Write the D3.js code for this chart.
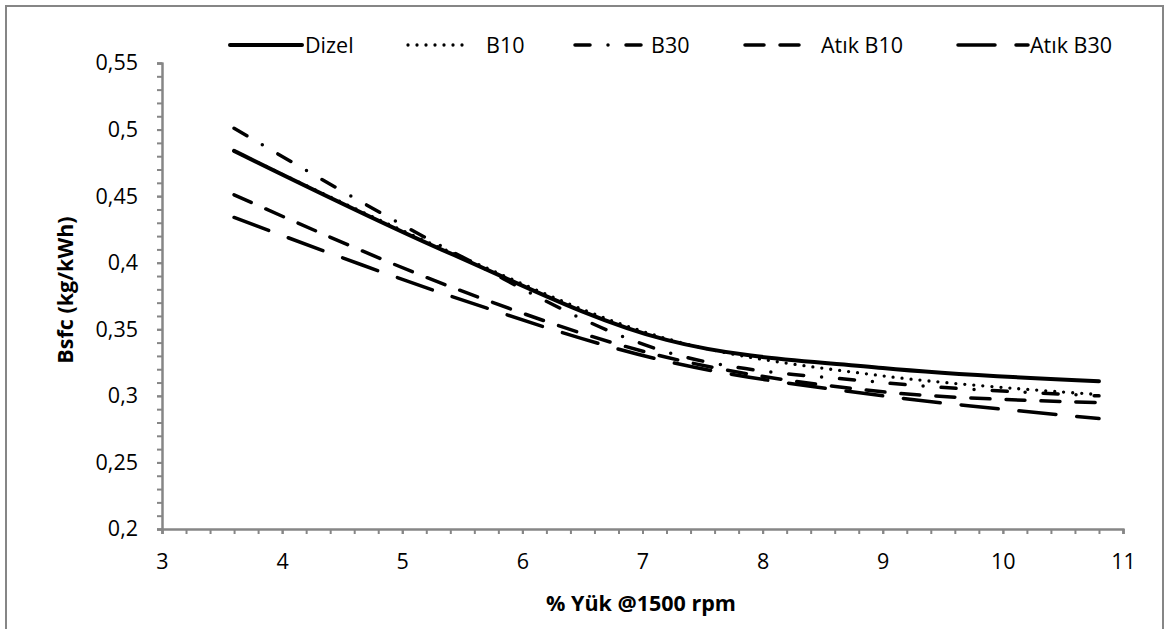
<!DOCTYPE html>
<html><head><meta charset="utf-8">
<script src="https://cdn.jsdelivr.net/npm/d3@7"></script>
<style>
body{margin:0;background:#fff}
svg text{font-family:'Open Sans',sans-serif;fill:#000}
</style>
</head><body>
<svg id="c" width="1170" height="629"></svg>
<script>
// ---- data ----
const loads = [3.6, 5.4, 7.2, 9, 10.8];
const dizel   = [0.484, 0.407, 0.342, 0.321, 0.311];
const b10     = [0.484, 0.408, 0.343, 0.315, 0.301];
const b30     = [0.501, 0.409, 0.333, 0.310, 0.300];
const atikB10 = [0.451, 0.382, 0.329, 0.303, 0.295];
const atikB30 = [0.434, 0.375, 0.326, 0.300, 0.283];
const seriesNames = ["Dizel", "B10", "B30", "Atık B10", "Atık B30"];
const xTicks = [3, 4, 5, 6, 7, 8, 9, 10, 11];
const xTickLabels = ["3", "4", "5", "6", "7", "8", "9", "10", "11"];
const yTicks = [0.2, 0.25, 0.3, 0.35, 0.4, 0.45, 0.5, 0.55];
const yTickLabels = ["0,2", "0,25", "0,3", "0,35", "0,4", "0,45", "0,5", "0,55"];
const xTitle = "% Yük @1500 rpm";
const yTitle = "Bsfc (kg/kWh)";

const seriesValues = [dizel, b10, b30, atikB10, atikB30];
const styles = [
  {w:4, dash:null},
  {w:3.3, dash:"0 9"},
  {w:3.5, dash:"15 18 0 18"},
  {w:3.5, dash:"19 16"},
  {w:3.5, dash:"37 21"}
];

const svg = d3.select('#c');
const axisColor = '#868686';
const fs = 21.5;

svg.append('rect').attr('x',6).attr('y',6).attr('width',1157).attr('height',640)
  .attr('fill','none').attr('stroke',axisColor).attr('stroke-width',2);

const x = d3.scaleLinear().domain([3, 11]).range([162, 1123]);
const y = d3.scaleLinear().domain([0.2, 0.55]).range([529, 63]);

// minor ticks
const gyMinor = svg.append('g').attr('transform','translate(162,0)')
  .call(d3.axisLeft(y).ticks(35).tickSize(5).tickFormat(''));
const gxMinor = svg.append('g').attr('transform','translate(0,529)')
  .call(d3.axisBottom(x).ticks(40).tickSize(5).tickFormat(''));
// major axes
const gy = svg.append('g').attr('transform','translate(162,0)')
  .call(d3.axisLeft(y).tickValues(yTicks).tickSize(5).tickPadding(19)
    .tickFormat((d,i)=>yTickLabels[i]));
const gx = svg.append('g').attr('transform','translate(0,529)')
  .call(d3.axisBottom(x).tickValues(xTicks).tickSize(5).tickPadding(20)
    .tickFormat((d,i)=>xTickLabels[i]));
[gyMinor,gxMinor,gy,gx].forEach(g=>{
  g.selectAll('path').attr('stroke',axisColor).attr('stroke-width',2);
  g.selectAll('line').attr('stroke',axisColor).attr('stroke-width',2);
  g.selectAll('text').attr('font-size',fs).attr('font-family',"'Open Sans',sans-serif").attr('fill','#000');
});

// axis titles
svg.append('text').attr('x',641).attr('y',611).attr('text-anchor','middle')
  .attr('font-size',fs).attr('font-weight','bold').text(xTitle);
svg.append('text').attr('transform','translate(73,290) rotate(-90)').attr('text-anchor','middle')
  .attr('font-size',fs).attr('font-weight','bold').text(yTitle);

// lines
const line = d3.line().x(d=>x(d[0])).y(d=>y(d[1])).curve(d3.curveCatmullRom.alpha(0.5));
seriesValues.forEach((vals,i)=>{
  const pts = loads.map((l,j)=>[l, vals[j]]);
  svg.append('path').datum(pts).attr('d',line)
    .attr('fill','none').attr('stroke','#000')
    .attr('stroke-width',styles[i].w)
    .attr('stroke-linecap','round').attr('stroke-linejoin','round')
    .attr('stroke-dasharray',styles[i].dash);
});

// legend
const legendItems = [
  {x0:230, x1:302, tx:305},
  {x0:408, x1:470, tx:486},
  {x0:575, x1:647, tx:651},
  {x0:745, x1:802, tx:821},
  {x0:958, x1:1028, tx:1030}
];
const ly = 45;
seriesNames.forEach((name,i)=>{
  const li = legendItems[i];
  svg.append('line').attr('x1',li.x0).attr('x2',li.x1).attr('y1',ly).attr('y2',ly)
    .attr('stroke','#000').attr('stroke-width',styles[i].w)
    .attr('stroke-linecap','round').attr('stroke-dasharray',styles[i].dash);
  svg.append('text').attr('x',li.tx).attr('y',ly).attr('dy','0.35em')
    .attr('font-size',fs).text(name);
});
</script>
</body></html>
